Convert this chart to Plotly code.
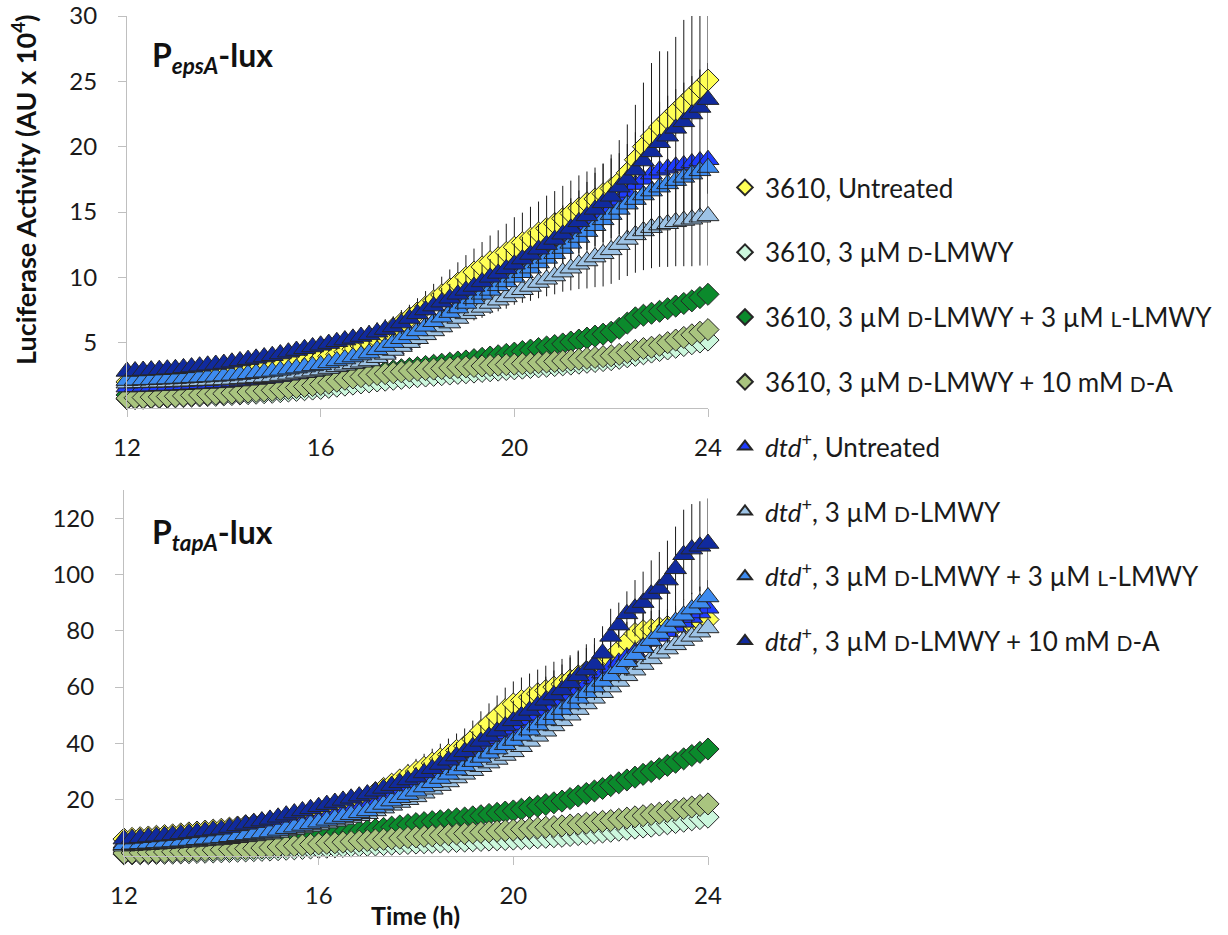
import plotly.graph_objects as go

# ---------------- data ----------------
TIME_MIN = [720, 730, 740, 750, 760, 770, 780, 790, 800, 810, 820, 830, 840, 850, 860, 870, 880, 890,
            900, 910, 920, 930, 940, 950, 960, 970, 980, 990, 1000, 1010, 1020, 1030, 1040, 1050, 1060,
            1070, 1080, 1090, 1100, 1110, 1120, 1130, 1140, 1150, 1160, 1170, 1180, 1190, 1200, 1210,
            1220, 1230, 1240, 1250, 1260, 1270, 1280, 1290, 1300, 1310, 1320, 1330, 1340, 1350, 1360,
            1370, 1380, 1390, 1400, 1410, 1420, 1430, 1440]

SERIES_NAMES = [
    "3610, Untreated",
    "3610, 3 µM D-LMWY",
    "3610, 3 µM D-LMWY + 3 µM L-LMWY",
    "3610, 3 µM D-LMWY + 10 mM D-A",
    "dtd+, Untreated",
    "dtd+, 3 µM D-LMWY",
    "dtd+, 3 µM D-LMWY + 3 µM L-LMWY",
    "dtd+, 3 µM D-LMWY + 10 mM D-A",
]

X_TICKS = [12, 16, 20, 24]
EPS_Y_TICKS = [5, 10, 15, 20, 25, 30]
TAP_Y_TICKS = [20, 40, 60, 80, 100, 120]

# ---- P_epsA-lux (AU x 10^4) ----
EPS_3610_UNT = [2.0,
    2.05, 2.1, 2.15, 2.2, 2.25, 2.3,
    2.35, 2.4, 2.45, 2.5, 2.55, 2.6,
    2.68, 2.76, 2.84, 2.92, 3.0, 3.1,
    3.2, 3.3, 3.4, 3.5, 3.65, 3.8,
    3.95, 4.1, 4.3, 4.5, 4.75, 5.0,
    5.3, 5.7, 6.1, 6.5, 6.9, 7.3,
    7.75, 8.2, 8.65, 9.1, 9.55, 10.0,
    10.4, 10.8, 11.2, 11.5, 11.9, 12.3,
    12.65, 13.0, 13.4, 13.75, 14.1, 14.5,
    14.9, 15.3, 15.7, 16.0, 16.4, 16.8,
    17.3, 18.0, 19.0, 20.0, 20.8, 21.5,
    22.1, 22.7, 23.3, 23.9, 24.5, 25.1]
EPS_3610_D = [0.7,
    0.72, 0.75, 0.77, 0.8, 0.82, 0.85,
    0.87, 0.9, 0.92, 0.95, 0.97, 1.0,
    1.03, 1.07, 1.1, 1.13, 1.17, 1.2,
    1.25, 1.3, 1.35, 1.4, 1.45, 1.5,
    1.58, 1.67, 1.75, 1.83, 1.92, 2.0,
    2.07, 2.13, 2.2, 2.27, 2.33, 2.4,
    2.45, 2.5, 2.55, 2.6, 2.65, 2.7,
    2.75, 2.8, 2.85, 2.9, 2.95, 3.0,
    3.05, 3.1, 3.15, 3.2, 3.25, 3.3,
    3.36, 3.43, 3.5, 3.56, 3.63, 3.7,
    3.8, 3.92, 4.03, 4.15, 4.28, 4.4,
    4.52, 4.65, 4.78, 4.92, 5.05, 5.2]
EPS_3610_DL = [1.0,
    1.03, 1.07, 1.1, 1.13, 1.17, 1.2,
    1.24, 1.28, 1.32, 1.37, 1.41, 1.45,
    1.5, 1.55, 1.6, 1.65, 1.7, 1.75,
    1.81, 1.87, 1.93, 1.98, 2.04, 2.1,
    2.18, 2.27, 2.35, 2.43, 2.52, 2.6,
    2.68, 2.77, 2.85, 2.93, 3.02, 3.1,
    3.18, 3.27, 3.35, 3.43, 3.52, 3.6,
    3.7, 3.8, 3.9, 4.0, 4.1, 4.2,
    4.32, 4.43, 4.55, 4.67, 4.78, 4.9,
    5.05, 5.2, 5.35, 5.5, 5.65, 5.8,
    6.1, 6.5, 6.9, 7.1, 7.25, 7.4,
    7.6, 7.8, 8.0, 8.2, 8.45, 8.7]
EPS_3610_DA = [0.75,
    0.78, 0.8, 0.83, 0.85, 0.88, 0.9,
    0.93, 0.97, 1.0, 1.03, 1.07, 1.1,
    1.14, 1.18, 1.22, 1.27, 1.31, 1.35,
    1.42, 1.5, 1.57, 1.65, 1.72, 1.8,
    1.9, 2.05, 2.2, 2.3, 2.4, 2.5,
    2.57, 2.63, 2.7, 2.77, 2.83, 2.9,
    2.94, 2.98, 3.02, 3.07, 3.11, 3.15,
    3.18, 3.22, 3.25, 3.28, 3.32, 3.35,
    3.39, 3.43, 3.47, 3.52, 3.56, 3.6,
    3.67, 3.73, 3.8, 3.87, 3.93, 4.0,
    4.1, 4.25, 4.4, 4.55, 4.65, 4.8,
    5.0, 5.2, 5.4, 5.6, 5.8, 6.0]
EPS_DTD_UNT = [1.6,
    1.62, 1.65, 1.67, 1.7, 1.72, 1.75,
    1.78, 1.82, 1.85, 1.88, 1.92, 1.95,
    2.0, 2.06, 2.12, 2.18, 2.24, 2.3,
    2.4, 2.5, 2.6, 2.7, 2.8, 2.9,
    3.03, 3.17, 3.3, 3.43, 3.57, 3.7,
    3.95, 4.2, 4.5, 4.85, 5.2, 5.6,
    6.0, 6.45, 6.9, 7.35, 7.8, 8.3,
    8.65, 9.0, 9.4, 9.75, 10.1, 10.5,
    10.9, 11.3, 11.65, 12.05, 12.4, 12.8,
    13.2, 13.6, 14.0, 14.5, 14.9, 15.3,
    15.9, 16.5, 17.1, 17.5, 17.9, 18.2,
    18.35, 18.5, 18.6, 18.75, 18.9, 19.0]
EPS_DTD_D = [1.9,
    1.92, 1.93, 1.95, 1.97, 1.98, 2.0,
    2.03, 2.05, 2.08, 2.1, 2.13, 2.15,
    2.19, 2.23, 2.28, 2.32, 2.36, 2.4,
    2.48, 2.57, 2.65, 2.73, 2.82, 2.9,
    3.02, 3.15, 3.27, 3.38, 3.5, 3.6,
    3.85, 4.1, 4.4, 4.7, 5.0, 5.3,
    5.6, 5.9, 6.2, 6.5, 6.85, 7.2,
    7.45, 7.7, 8.0, 8.25, 8.5, 8.8,
    9.05, 9.3, 9.6, 9.85, 10.1, 10.4,
    10.7, 11.0, 11.25, 11.55, 11.8, 12.1,
    12.5, 12.9, 13.25, 13.55, 13.8, 14.0,
    14.1, 14.25, 14.35, 14.45, 14.6, 14.7]
EPS_DTD_DL = [2.1,
    2.12, 2.15, 2.17, 2.2, 2.22, 2.25,
    2.28, 2.32, 2.35, 2.38, 2.42, 2.45,
    2.5, 2.56, 2.62, 2.68, 2.74, 2.8,
    2.88, 2.97, 3.05, 3.13, 3.22, 3.3,
    3.45, 3.6, 3.75, 3.9, 4.05, 4.2,
    4.45, 4.7, 5.0, 5.3, 5.6, 5.9,
    6.25, 6.6, 6.95, 7.3, 7.65, 8.0,
    8.35, 8.7, 9.0, 9.35, 9.65, 10.0,
    10.35, 10.7, 11.1, 11.45, 11.8, 12.2,
    12.6, 13.05, 13.5, 13.95, 14.4, 14.8,
    15.2, 15.6, 15.95, 16.3, 16.6, 16.9,
    17.15, 17.4, 17.65, 17.9, 18.15, 18.4]
EPS_DTD_DA = [2.8,
    2.83, 2.87, 2.9, 2.93, 2.97, 3.0,
    3.07, 3.13, 3.2, 3.27, 3.33, 3.4,
    3.5, 3.6, 3.7, 3.8, 3.9, 4.0,
    4.13, 4.27, 4.4, 4.53, 4.67, 4.8,
    4.93, 5.07, 5.2, 5.33, 5.47, 5.6,
    5.8, 6.0, 6.2, 6.5, 6.85, 7.2,
    7.5, 7.8, 8.1, 8.4, 8.7, 9.0,
    9.3, 9.65, 10.0, 10.3, 10.65, 11.0,
    11.4, 11.75, 12.15, 12.5, 12.9, 13.3,
    13.75, 14.25, 14.7, 15.2, 15.7, 16.2,
    16.9, 17.5, 18.2, 18.9, 19.6, 20.3,
    20.8, 21.4, 21.9, 22.5, 23.0, 23.6]

EPS_ERR_3610_UNT = [0.2,
    0.2, 0.2, 0.2, 0.2, 0.2, 0.2,
    0.2, 0.2, 0.2, 0.25, 0.25, 0.25,
    0.3, 0.3, 0.3, 0.35, 0.35, 0.35,
    0.4, 0.4, 0.45, 0.45, 0.5, 0.5,
    0.55, 0.6, 0.6, 0.65, 0.7, 0.75,
    0.8, 0.85, 0.9, 1.0, 1.0, 1.1,
    1.2, 1.3, 1.4, 1.5, 1.6, 1.7,
    1.8, 1.9, 2.0, 2.1, 2.2, 2.3,
    2.3, 2.4, 2.4, 2.5, 2.5, 2.5,
    2.5, 2.5, 2.4, 2.4, 2.3, 2.3,
    2.2, 2.2, 2.1, 2.0, 2.0, 1.9,
    1.8, 1.7, 1.6, 1.5, 1.4, 1.3]
EPS_ERR_DTD_D = [0.2,
    0.2, 0.2, 0.2, 0.2, 0.2, 0.2,
    0.2, 0.2, 0.2, 0.2, 0.2, 0.2,
    0.2, 0.2, 0.25, 0.25, 0.25, 0.25,
    0.3, 0.3, 0.3, 0.3, 0.35, 0.35,
    0.35, 0.4, 0.4, 0.4, 0.45, 0.45,
    0.5, 0.5, 0.5, 0.55, 0.55, 0.6,
    0.6, 0.65, 0.65, 0.7, 0.7, 0.75,
    0.75, 0.8, 0.8, 0.85, 0.9, 0.9,
    1.0, 1.1, 1.2, 1.3, 1.4, 1.5,
    1.7, 1.9, 2.1, 2.3, 2.5, 2.6,
    2.7, 2.8, 2.9, 3.0, 3.1, 3.2,
    3.3, 3.4, 3.5, 3.6, 3.7, 3.8]
EPS_ERR_DTD_DA = [0.3,
    0.3, 0.3, 0.3, 0.3, 0.3, 0.3,
    0.3, 0.35, 0.35, 0.35, 0.4, 0.4,
    0.4, 0.4, 0.45, 0.45, 0.45, 0.5,
    0.5, 0.5, 0.55, 0.55, 0.6, 0.6,
    0.6, 0.65, 0.65, 0.7, 0.7, 0.75,
    0.75, 0.8, 0.8, 0.85, 0.9, 0.9,
    1.0, 1.0, 1.1, 1.1, 1.2, 1.2,
    1.3, 1.3, 1.4, 1.5, 1.5, 1.6,
    1.7, 1.8, 1.9, 2.0, 2.1, 2.2,
    2.3, 2.4, 2.6, 2.8, 3.0, 3.2,
    3.6, 4.2, 5.0, 6.0, 6.8, 7.0,
    6.5, 7.0, 7.8, 8.3, 8.0, 7.2]

# ---- P_tapA-lux (AU x 10^4) ----
TAP_3610_UNT = [6.0,
    6.25, 6.5, 6.75, 7.0, 7.25, 7.5,
    7.85, 8.2, 8.5, 8.85, 9.2, 9.5,
    9.9, 10.3, 10.75, 11.15, 11.6, 12.0,
    12.6, 13.2, 13.8, 14.3, 14.9, 15.5,
    16.4, 17.3, 18.2, 19.1, 20.0, 21.0,
    22.5, 24.0, 25.5, 27.0, 28.5, 30.0,
    31.5, 33.0, 34.5, 36.0, 37.5, 39.0,
    41.5, 44.5, 47.0, 49.5, 52.0, 54.0,
    55.2, 56.4, 57.6, 58.8, 60.0, 61.0,
    62.5, 64.0, 65.5, 67.0, 68.5, 70.0,
    73.0, 76.0, 79.0, 80.0, 80.5, 81.0,
    81.5, 82.0, 82.5, 83.0, 83.5, 84.0]
TAP_3610_D = [0.7,
    0.75, 0.8, 0.85, 0.9, 0.95, 1.0,
    1.08, 1.17, 1.25, 1.33, 1.42, 1.5,
    1.6, 1.7, 1.8, 1.9, 2.0, 2.1,
    2.25, 2.4, 2.55, 2.7, 2.85, 3.0,
    3.13, 3.27, 3.4, 3.53, 3.67, 3.8,
    3.93, 4.07, 4.2, 4.33, 4.47, 4.6,
    4.72, 4.83, 4.95, 5.07, 5.18, 5.3,
    5.42, 5.53, 5.65, 5.77, 5.88, 6.0,
    6.15, 6.3, 6.5, 6.65, 6.85, 7.0,
    7.3, 7.6, 7.9, 8.2, 8.5, 8.8,
    9.15, 9.5, 9.9, 10.3, 10.6, 11.0,
    11.45, 11.9, 12.35, 12.85, 13.3, 13.8]
TAP_3610_DL = [2.0,
    2.13, 2.27, 2.4, 2.53, 2.67, 2.8,
    2.97, 3.13, 3.3, 3.47, 3.63, 3.8,
    4.0, 4.2, 4.4, 4.6, 4.8, 5.0,
    5.33, 5.67, 6.0, 6.33, 6.67, 7.0,
    7.33, 7.67, 8.0, 8.33, 8.67, 9.0,
    9.4, 9.8, 10.25, 10.65, 11.1, 11.5,
    11.85, 12.2, 12.5, 12.85, 13.2, 13.5,
    13.9, 14.3, 14.75, 15.15, 15.6, 16.0,
    16.6, 17.2, 17.7, 18.3, 18.9, 19.5,
    20.4, 21.3, 22.2, 23.1, 24.0, 25.0,
    26.0, 27.0, 28.0, 29.0, 30.0, 31.0,
    32.2, 33.3, 34.5, 35.7, 36.8, 38.0]
TAP_3610_DA = [1.0,
    1.08, 1.17, 1.25, 1.33, 1.42, 1.5,
    1.62, 1.73, 1.85, 1.97, 2.08, 2.2,
    2.33, 2.47, 2.6, 2.73, 2.87, 3.0,
    3.22, 3.43, 3.65, 3.87, 4.08, 4.3,
    4.5, 4.7, 4.9, 5.1, 5.3, 5.5,
    5.72, 5.93, 6.15, 6.37, 6.58, 6.8,
    7.0, 7.2, 7.4, 7.6, 7.8, 8.0,
    8.2, 8.4, 8.6, 8.8, 9.0, 9.2,
    9.45, 9.7, 9.95, 10.2, 10.45, 10.7,
    11.0, 11.3, 11.65, 11.95, 12.3, 12.6,
    13.0, 13.45, 13.9, 14.3, 14.75, 15.2,
    15.75, 16.3, 16.85, 17.4, 17.95, 18.5]
TAP_DTD_UNT = [4.5,
    4.67, 4.83, 5.0, 5.17, 5.33, 5.5,
    5.75, 6.0, 6.25, 6.5, 6.75, 7.0,
    7.4, 7.85, 8.25, 8.65, 9.1, 9.5,
    10.1, 10.7, 11.25, 11.85, 12.4, 13.0,
    13.75, 14.5, 15.25, 16.0, 16.75, 17.5,
    18.75, 20.0, 21.25, 22.5, 23.75, 25.0,
    26.7, 28.3, 30.0, 31.7, 33.3, 35.0,
    36.7, 38.3, 40.0, 41.7, 43.3, 45.0,
    46.7, 48.3, 50.0, 51.7, 53.3, 55.0,
    57.0, 59.0, 61.0, 63.0, 65.0, 67.0,
    68.8, 70.7, 72.5, 74.3, 76.2, 78.0,
    79.7, 81.3, 83.0, 84.7, 86.3, 88.0]
TAP_DTD_D = [3.5,
    3.67, 3.83, 4.0, 4.17, 4.33, 4.5,
    4.72, 4.93, 5.15, 5.37, 5.58, 5.8,
    6.13, 6.47, 6.8, 7.13, 7.47, 7.8,
    8.33, 8.87, 9.4, 9.93, 10.47, 11.0,
    11.67, 12.33, 13.0, 13.67, 14.33, 15.0,
    16.0, 17.0, 18.0, 19.0, 20.0, 21.0,
    22.3, 23.7, 25.0, 26.3, 27.7, 29.0,
    30.3, 31.7, 33.0, 34.3, 35.7, 37.0,
    38.8, 40.7, 42.5, 44.3, 46.2, 48.0,
    50.0, 52.0, 54.0, 56.0, 58.0, 60.0,
    62.0, 64.0, 66.0, 68.0, 70.0, 72.0,
    73.5, 75.0, 76.5, 78.0, 79.5, 81.0]
TAP_DTD_DL = [4.0,
    4.17, 4.33, 4.5, 4.67, 4.83, 5.0,
    5.25, 5.5, 5.75, 6.0, 6.25, 6.5,
    6.83, 7.17, 7.5, 7.83, 8.17, 8.5,
    9.1, 9.7, 10.25, 10.85, 11.4, 12.0,
    12.67, 13.33, 14.0, 14.67, 15.33, 16.0,
    17.2, 18.3, 19.5, 20.7, 21.8, 23.0,
    24.5, 26.0, 27.5, 29.0, 30.5, 32.0,
    33.5, 35.0, 36.5, 38.0, 39.5, 41.0,
    42.8, 44.7, 46.5, 48.3, 50.2, 52.0,
    54.0, 56.0, 58.0, 60.0, 62.0, 64.0,
    66.5, 69.0, 71.5, 74.0, 76.5, 79.0,
    81.2, 83.3, 85.5, 87.7, 89.8, 92.0]
TAP_DTD_DA = [6.0,
    6.25, 6.5, 6.75, 7.0, 7.25, 7.5,
    7.85, 8.2, 8.5, 8.85, 9.2, 9.5,
    10.1, 10.7, 11.25, 11.85, 12.4, 13.0,
    13.75, 14.5, 15.25, 16.0, 16.75, 17.5,
    18.25, 19.0, 19.75, 20.5, 21.25, 22.0,
    23.0, 24.0, 25.0, 26.0, 27.0, 28.0,
    29.5, 31.0, 32.5, 34.0, 35.5, 37.0,
    38.8, 40.7, 42.5, 44.3, 46.2, 48.0,
    49.8, 51.7, 53.5, 55.3, 57.2, 59.0,
    61.5, 64.0, 66.0, 68.0, 72.0, 78.0,
    82.0, 86.0, 88.0, 90.0, 93.0, 95.0,
    98.0, 102.0, 107.0, 109.0, 110.0, 111.0]

TAP_ERR_3610_UNT = [0.4,
    0.4, 0.4, 0.4, 0.4, 0.4, 0.4,
    0.45, 0.5, 0.5, 0.55, 0.6, 0.6,
    0.65, 0.7, 0.75, 0.8, 0.85, 0.9,
    1.0, 1.1, 1.2, 1.3, 1.4, 1.5,
    1.7, 1.9, 2.1, 2.3, 2.5, 2.7,
    3.0, 3.3, 3.6, 3.9, 4.2, 4.5,
    4.8, 5.1, 5.4, 5.7, 6.0, 6.3,
    6.6, 6.9, 7.2, 7.5, 7.8, 8.0,
    8.2, 8.4, 8.6, 8.8, 9.0, 9.0,
    8.8, 8.6, 8.4, 8.2, 8.0, 7.8,
    7.5, 7.2, 7.0, 6.8, 6.6, 6.4,
    6.2, 6.0, 5.8, 5.6, 5.4, 5.2]
TAP_ERR_DTD_DL = [0.3,
    0.3, 0.3, 0.3, 0.3, 0.3, 0.3,
    0.35, 0.4, 0.4, 0.45, 0.45, 0.5,
    0.55, 0.6, 0.65, 0.7, 0.75, 0.8,
    0.85, 0.9, 1.0, 1.05, 1.1, 1.2,
    1.3, 1.4, 1.5, 1.6, 1.7, 1.8,
    1.9, 2.0, 2.1, 2.2, 2.3, 2.4,
    2.5, 2.6, 2.7, 2.8, 2.9, 3.0,
    3.1, 3.2, 3.3, 3.4, 3.5, 3.6,
    3.7, 3.8, 3.9, 4.0, 4.1, 4.2,
    4.3, 4.4, 4.5, 4.6, 4.7, 4.8,
    4.9, 5.0, 5.1, 5.2, 5.3, 5.4,
    5.5, 5.6, 5.7, 5.8, 5.9, 6.0]
TAP_ERR_DTD_DA = [0.5,
    0.5, 0.5, 0.5, 0.5, 0.5, 0.5,
    0.6, 0.6, 0.7, 0.7, 0.8, 0.8,
    0.9, 0.9, 1.0, 1.0, 1.1, 1.2,
    1.3, 1.4, 1.5, 1.6, 1.7, 1.8,
    1.9, 2.0, 2.1, 2.2, 2.4, 2.5,
    2.6, 2.8, 3.0, 3.2, 3.4, 3.6,
    3.8, 4.0, 4.3, 4.6, 4.9, 5.2,
    5.5, 5.8, 6.2, 6.5, 6.9, 7.2,
    7.5, 7.8, 8.1, 8.4, 8.7, 9.0,
    9.0, 9.0, 9.2, 9.4, 9.6, 9.8,
    8.0, 8.0, 10.0, 11.0, 12.0, 13.0,
    14.0, 15.0, 16.0, 16.0, 16.0, 16.0]

EPS_SERIES = [EPS_3610_UNT, EPS_3610_D, EPS_3610_DL, EPS_3610_DA,
              EPS_DTD_UNT, EPS_DTD_D, EPS_DTD_DL, EPS_DTD_DA]
EPS_ERRORS = [EPS_ERR_3610_UNT, None, None, None, None, EPS_ERR_DTD_D, None, EPS_ERR_DTD_DA]
TAP_SERIES = [TAP_3610_UNT, TAP_3610_D, TAP_3610_DL, TAP_3610_DA,
              TAP_DTD_UNT, TAP_DTD_D, TAP_DTD_DL, TAP_DTD_DA]
TAP_ERRORS = [TAP_ERR_3610_UNT, None, None, None, None, None, TAP_ERR_DTD_DL, TAP_ERR_DTD_DA]

# ---------------- styling ----------------
FONT = "Lato, 'Open Sans', 'DejaVu Sans', sans-serif"
COLORS = ["#FFFF55", "#CCF7DD", "#0B8A2C", "#A9C47F",
          "#1E3CFF", "#9DC3E6", "#3D8BF0", "#102A9E"]
SYMBOLS = ["diamond"] * 4 + ["triangle-up"] * 4
MARKER_SIZE = [17, 17, 17, 17, 19, 19, 19, 19]
AXIS_GREY = "#BFBFBF"
TEXT = "#1a1a1a"


def sc(letter, size=21):
    return '<span style="font-size:%dpx">%s</span>' % (size, letter)


def legend_label(name):
    name = name.replace("D-LMWY", sc("D") + "-LMWY").replace("L-LMWY", sc("L") + "-LMWY")
    name = name.replace("mM D-A", "mM " + sc("D") + "-A")
    name = name.replace("dtd+", "<i>dtd</i><sup>+</sup>")
    return name


hours = [m / 60 for m in TIME_MIN]

fig = go.Figure()
for panel, (series, errors, xa, ya) in enumerate([(EPS_SERIES, EPS_ERRORS, "x", "y"),
                                                  (TAP_SERIES, TAP_ERRORS, "x2", "y2")]):
    for i, (vals, err) in enumerate(zip(series, errors)):
        kw = {}
        if err is not None:
            kw["error_y"] = dict(type="data", array=err, visible=True, color="#1a1a1a",
                                 thickness=1, width=0)
        fig.add_trace(go.Scatter(
            x=hours, y=vals, mode="markers", xaxis=xa, yaxis=ya,
            name=legend_label(SERIES_NAMES[i]),
            legendgroup="g%d" % i, showlegend=(panel == 0),
            cliponaxis=False,
            marker=dict(symbol=SYMBOLS[i], size=MARKER_SIZE[i], color=COLORS[i],
                        line=dict(color="#262626", width=1)),
            **kw))

W, H = 1228, 935
common_x = dict(range=[12, 24], tickvals=X_TICKS, showline=True, linecolor=AXIS_GREY, linewidth=1,
                ticks="outside", ticklen=8, tickcolor=AXIS_GREY, showgrid=False, zeroline=False,
                tickfont=dict(family=FONT, size=24, color=TEXT), ticklabelstandoff=10,
                automargin=False)
common_y = dict(showline=True, linecolor=AXIS_GREY, linewidth=1, ticks="outside", ticklen=8,
                tickcolor=AXIS_GREY, showgrid=False, zeroline=False,
                tickfont=dict(family=FONT, size=24, color=TEXT), ticklabelstandoff=16,
                automargin=False)

fig.update_layout(
    width=W, height=H,
    margin=dict(l=0, r=0, t=0, b=0, pad=0, autoexpand=False),
    paper_bgcolor="white", plot_bgcolor="white",
    font=dict(family=FONT, color=TEXT),
    xaxis=dict(domain=[127 / W, 708 / W], anchor="y", **common_x),
    yaxis=dict(domain=[1 - 408 / H, 1 - 16 / H], anchor="x", range=[0, 30],
               tickvals=EPS_Y_TICKS, **common_y),
    xaxis2=dict(domain=[124 / W, 708 / W], anchor="y2", **common_x),
    yaxis2=dict(domain=[1 - 856 / H, 1 - 490 / H], anchor="x2", range=[0, 130],
                tickvals=TAP_Y_TICKS, **common_y),
    showlegend=True,
    legend=dict(x=725 / W, y=1 - 164 / H, xanchor="left", yanchor="top",
                font=dict(family=FONT, size=26, color=TEXT),
                tracegroupgap=28, itemsizing="constant", bgcolor="rgba(0,0,0,0)"),
    annotations=[
        dict(text="<b>P<sub><i>epsA</i></sub>-lux</b>", x=150 / W, y=1 - 57 / H, xref="paper",
             yref="paper", xanchor="left", yanchor="middle", showarrow=False,
             font=dict(family=FONT, size=32, color="#111")),
        dict(text="<b>P<sub><i>tapA</i></sub>-lux</b>", x=150 / W, y=1 - 534 / H, xref="paper",
             yref="paper", xanchor="left", yanchor="middle", showarrow=False,
             font=dict(family=FONT, size=32, color="#111")),
        dict(text="<b>Luciferase Activity (AU x 10<sup>4</sup>)</b>", x=24 / W, y=1 - 190 / H,
             xref="paper", yref="paper", xanchor="center", yanchor="middle", textangle=-90,
             showarrow=False, font=dict(family=FONT, size=27, color="#111")),
        dict(text="<b>Time (h)</b>", x=415 / W, y=1 - 915 / H, xref="paper", yref="paper",
             xanchor="center", yanchor="middle", showarrow=False,
             font=dict(family=FONT, size=25, color="#111")),
    ],
)

fig.write_html("out.html", config={"displayModeBar": False},
               post_script="document.body.style.margin='0';")
